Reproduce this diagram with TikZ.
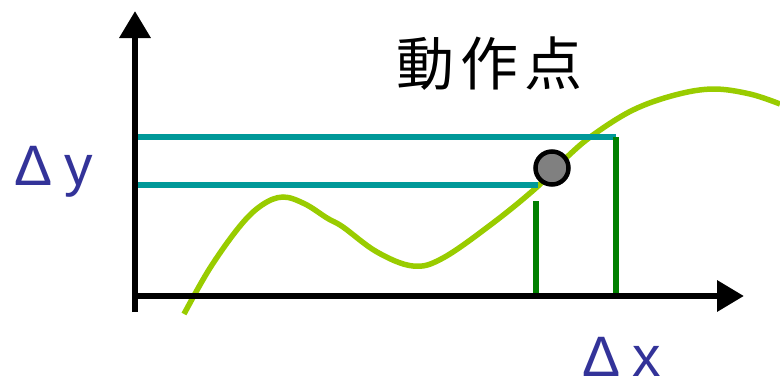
\documentclass[tikz,border=0pt]{standalone}
\usepackage{fontspec}
\setmainfont{Liberation Sans}
\newfontfamily\cjk{Noto Sans CJK JP}
\usetikzlibrary{arrows.meta}
\definecolor{axblue}{HTML}{333399}
\definecolor{teal2}{HTML}{009999}
\definecolor{dgreen}{HTML}{008000}
\definecolor{ygreen}{HTML}{99CC00}
\tikzset{
  axisline/.style={line width=6.5pt, -{Triangle[length=27pt,width=30pt]}},
  hline/.style={line width=5.5pt, draw=teal2},
  vline/.style={line width=5.5pt, draw=dgreen},
  curveline/.style={line width=5.5pt, draw=ygreen},
  lbl/.style={text=axblue, font=\fontsize{57}{60}\selectfont, inner sep=0pt},
}
\begin{document}
\begin{tikzpicture}[x=1pt,y=-1pt]
\useasboundingbox (0,0) rectangle (780,384);
% curve
\draw[curveline] plot[smooth, tension=0.6] coordinates {
 (184,314) (210,268) (240,226) (262,205) (283,197) (305,204) (327,218) (343,227)
 (377,252) (413,266) (443,258) (493,223) (537,187) (567,157) (593,135) (633,110)
 (675,95) (713,89) (750,94) (780,104)};
% teal lines
\coordinate (t1a) at (136,137); \coordinate (t1b) at (616,137);
\coordinate (t2a) at (136,185); \coordinate (t2b) at (538,185);
\draw[hline] (t1a) -- (t1b);
\draw[hline] (t2a) -- (t2b);
% green verticals
\coordinate (g1a) at (536,201); \coordinate (g1b) at (536,296);
\coordinate (g2a) at (616,137); \coordinate (g2b) at (616,296);
\draw[vline] (g1a) -- (g1b);
\draw[vline] (g2a) -- (g2b);
% axes
\coordinate (o1) at (135,312); \coordinate (ytip) at (135,11);
\coordinate (o2) at (132,296); \coordinate (xtip) at (744,296);
\draw[axisline] (o1) -- (ytip);
\draw[axisline] (o2) -- (xtip);
% operating point
\node[circle, draw=black, line width=4.5pt, fill=gray, minimum size=33pt, inner sep=0pt] (pt) at (552,168) {};
% labels
\node[anchor=base west, font=\cjk\fontsize{58}{60}\selectfont, inner sep=0pt] (title) at (396,85) {動\hspace{6pt}作\hspace{6pt}点};
\node[lbl, anchor=base west] (dy) at (14,185) {Δ\hspace{12pt}y};
\node[lbl, anchor=base west] (dx) at (582,376) {Δ\hspace{12pt}x};
\end{tikzpicture}
\end{document}
